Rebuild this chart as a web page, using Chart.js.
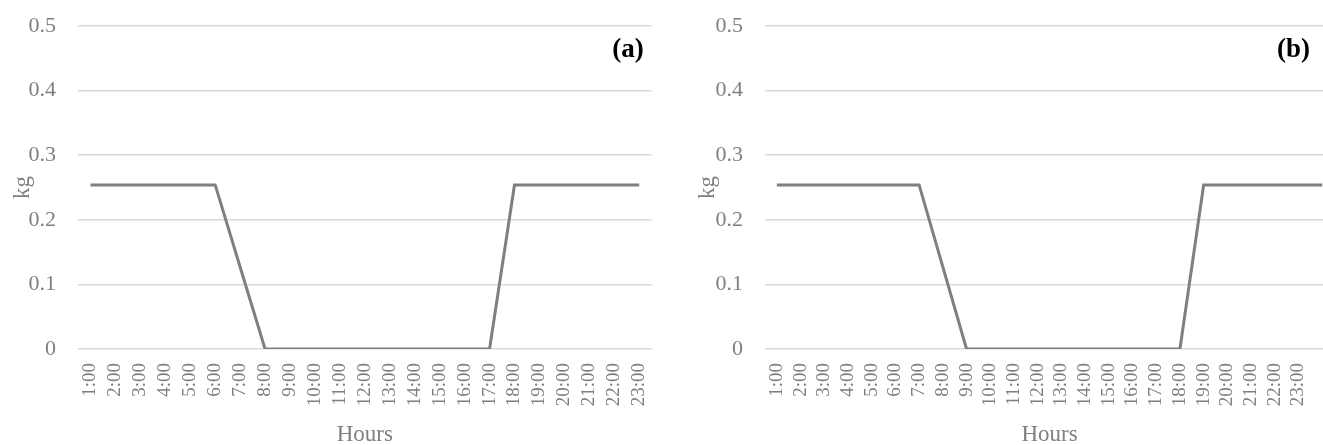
<!DOCTYPE html>
<html>
<head>
<meta charset="utf-8">
<script src="https://cdn.jsdelivr.net/npm/chart.js@4"></script>
<style>
	html, body { margin: 0; padding: 0; background: #fff; overflow: hidden; width: 1323px; height: 445px; }
	.box { position: absolute; top: 0; height: 445px; }
	#boxA { left: 0; width: 668px; }
	#boxB { left: 660px; width: 691px; }
</style>
</head>
<body>
<div class="box" id="boxA"><canvas id="chartA"></canvas></div>
<div class="box" id="boxB"><canvas id="chartB"></canvas></div>
<script>
var hoursA = ["1:00", "2:00", "3:00", "4:00", "5:00", "6:00", "7:00", "8:00", "9:00", "10:00", "11:00", "12:00",
	"13:00", "14:00", "15:00", "16:00", "17:00", "18:00", "19:00", "20:00", "21:00", "22:00", "23:00"];
// panel (b) runs one point past 23:00, its label is cut off at the edge
var hoursB = hoursA.concat([""]);

var valuesA = [0.254, 0.254, 0.254, 0.254, 0.254, 0.254, 0.127, 0, 0, 0, 0, 0,
	0, 0, 0, 0, 0, 0.254, 0.254, 0.254, 0.254, 0.254, 0.254];
var valuesB = [0.254, 0.254, 0.254, 0.254, 0.254, 0.254, 0.254, 0.127, 0, 0, 0, 0,
	0, 0, 0, 0, 0, 0, 0.254, 0.254, 0.254, 0.254, 0.254, 0.254];

var yTicks = [0, 0.1, 0.2, 0.3, 0.4, 0.5];

var fontName = "'Liberation Serif', 'Times New Roman', serif";
var textGray = "#7f7f7f";

// draws the (a)/(b) tag inside the plot
var panelTag = {
	id: "panelTag",
	afterDraw: function (chart, args, opts) {
		var ctx = chart.ctx;
		var area = chart.chartArea;
		ctx.save();
		ctx.font = "bold 27px " + fontName;
		ctx.fillStyle = "#000";
		ctx.textAlign = "right";
		ctx.textBaseline = "middle";
		ctx.fillText(opts.text, area.right - opts.dx, area.top + opts.dy);
		ctx.restore();
	}
};

function makeChart(id, labels, values, tag, yWidth, kgPad, tagDx) {
	var ctx = document.getElementById(id);
	return new Chart(ctx, {
		type: "line",
		data: {
			labels: labels,
			datasets: [{
				label: "kg",
				data: values,
				borderColor: "#7f7f7f",
				borderWidth: 3,
				pointRadius: 0,
				fill: false,
				tension: 0
			}]
		},
		options: {
			responsive: true,
			maintainAspectRatio: false,
			animation: false,
			layout: { padding: { top: 26, right: 0, bottom: 0, left: 0 } },
			plugins: {
				legend: { display: false },
				tooltip: { enabled: false },
				panelTag: { text: tag, dx: tagDx, dy: 24 }
			},
			scales: {
				x: {
					offset: true,
					grid: { display: false },
					border: { display: false },
					ticks: {
						color: textGray,
						font: { family: fontName, size: 19 },
						minRotation: 90,
						maxRotation: 90,
						autoSkip: false,
						padding: 6
					},
					title: {
						display: true,
						text: "Hours",
						color: textGray,
						font: { family: fontName, size: 23 },
						padding: { top: 0, bottom: -4 }
					},
					afterFit: function (scale) { scale.height = 96; }
				},
				y: {
					min: 0,
					max: 0.5,
					afterBuildTicks: function (scale) {
						scale.ticks = yTicks.map(function (v) { return { value: v }; });
					},
					// invisible tick marks give the gap between labels and plot
					grid: { color: "#d9d9d9", lineWidth: 1.5, drawTicks: true, tickLength: 22, tickColor: "rgba(0,0,0,0)" },
					border: { display: false },
					ticks: {
						color: textGray,
						font: { family: fontName, size: 22 },
						padding: 0
					},
					title: {
						display: true,
						text: "kg",
						color: textGray,
						font: { family: fontName, size: 23 },
						padding: { top: kgPad, bottom: 0 }
					},
					afterFit: function (scale) { scale.width = yWidth; }
				}
			}
		},
		plugins: [panelTag]
	});
}

makeChart("chartA", hoursA, valuesA, "(a)", 78, 9, 8);
makeChart("chartB", hoursB, valuesB, "(b)", 105, 34, 24);
</script>
</body>
</html>
